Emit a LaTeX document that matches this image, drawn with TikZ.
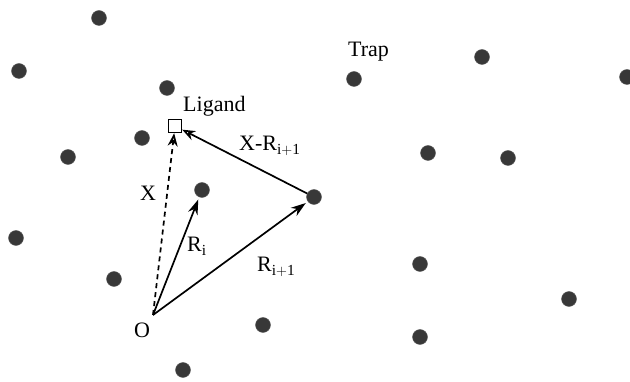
\documentclass[tikz,border=0pt]{standalone}
\usepackage{fontspec}
\setmainfont{Liberation Serif}
\usetikzlibrary{arrows.meta}
\begin{document}
\begin{tikzpicture}[x=1pt,y=-1pt,
  trapdot/.style={circle,fill=black!78,draw=black!65,minimum size=15pt,inner sep=0pt},
  lbl/.style={font=\fontsize{22}{26}\selectfont,inner sep=0pt,anchor=base west},
  vec/.style={line width=1.7pt,shorten >=2.5pt,-{Stealth[length=15pt,width=10pt]}},
  lvec/.style={line width=1.7pt,-{Stealth[length=13pt,width=10pt,open]}},
  dvec/.style={line width=1.7pt,dash pattern=on 5pt off 4pt,-{Stealth[length=13pt,width=10pt,open]}}]
\useasboundingbox (0,0) rectangle (630,382);
% traps
\node[trapdot] (d1) at (99,18) {};
\node[trapdot] (d2) at (19,71) {};
\node[trapdot] (d3) at (167,88) {};
\node[trapdot] (d4) at (354,79) {};
\node[trapdot] (d5) at (482,57) {};
\node[trapdot] (d6) at (627,77) {};
\node[trapdot] (d7) at (142,138) {};
\node[trapdot] (d8) at (68,157) {};
\node[trapdot] (d9) at (428,153) {};
\node[trapdot] (d10) at (508,158) {};
\node[trapdot] (di) at (202,190) {};
\node[trapdot] (dj) at (314,197) {};
\node[trapdot] (d13) at (16,238) {};
\node[trapdot] (d14) at (114,279) {};
\node[trapdot] (d15) at (420,264) {};
\node[trapdot] (d16) at (569,299) {};
\node[trapdot] (d17) at (263,325) {};
\node[trapdot] (d18) at (420,337) {};
\node[trapdot] (d19) at (183,370) {};
% ligand
\node[draw,line width=1.4pt,minimum size=13pt,inner sep=0pt] (lig) at (175,126) {};
\coordinate (o) at (153,315);
% vectors
\draw[vec] (o) -- (di);
\draw[vec] (o) -- (dj);
\draw[lvec] (dj) -- (lig);
\draw[dvec] (o) -- (lig);
% labels
\node[lbl] (tO) at (134,338) {O};
\node[lbl] (tTrap) at (348,57) {Trap};
\node[lbl] (tLig) at (183,112) {Ligand};
\node[lbl] (tX) at (140,201) {X};
\node[lbl] (tRi) at (187,252) {R$_{\mathrm{i}}$};
\node[lbl] (tRj) at (257,272) {R$_{\mathrm{i+1}}$};
\node[lbl] (tXR) at (239,151) {X-R$_{\mathrm{i+1}}$};
\end{tikzpicture}
\end{document}
